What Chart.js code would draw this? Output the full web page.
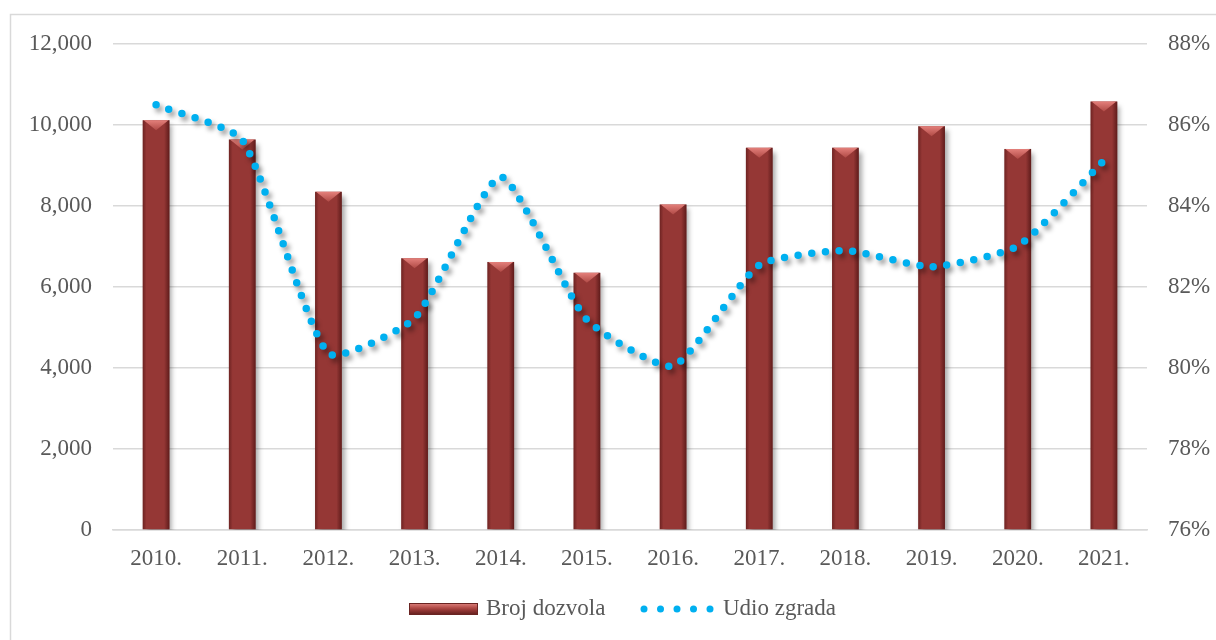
<!DOCTYPE html>
<html>
<head>
<meta charset="utf-8">
<style>
  html, body { margin: 0; padding: 0; background: #fff; }
  #wrap { position: relative; width: 1216px; height: 640px; }
</style>
<script src="https://cdn.jsdelivr.net/npm/chart.js"></script>
</head>
<body>
<div id="wrap"><canvas id="chart" width="1216" height="640"></canvas></div>
<script>
// Data
const years = ['2010.', '2011.', '2012.', '2013.', '2014.', '2015.', '2016.', '2017.', '2018.', '2019.', '2020.', '2021.'];
const brojDozvola = [10120, 9640, 8350, 6710, 6620, 6350, 8040, 9440, 9440, 9970, 9410, 10580];
const udioZgrada = [86.5, 85.63, 80.36, 81.23, 84.72, 81.19, 80.05, 82.54, 82.9, 82.5, 83.01, 85.12];
const legendLabels = ['Broj dozvola', 'Udio zgrada'];

const FONT = '"Liberation Serif", "Times New Roman", serif';
const TEXT = '#595959';
const GRID = '#d9d9d9';
const BAR = '#953735';
const LINE = '#00b0f0';

// bevel look on each bar: dark sides + light top wedge
function drawBevel(ctx, x, y, w, h) {
  ctx.save();
  const g = ctx.createLinearGradient(x, 0, x + w, 0);
  g.addColorStop(0, 'rgba(50,5,5,0.4)');
  g.addColorStop(0.14, 'rgba(50,5,5,0)');
  g.addColorStop(0.8, 'rgba(50,5,5,0)');
  g.addColorStop(1, 'rgba(50,5,5,0.55)');
  ctx.fillStyle = g;
  ctx.fillRect(x, y, w, h);
  const d = Math.min(10, h);
  const t = ctx.createLinearGradient(0, y, 0, y + d);
  t.addColorStop(0, '#e4807b');
  t.addColorStop(1, '#b04a46');
  ctx.fillStyle = t;
  ctx.beginPath();
  ctx.moveTo(x + 1, y);
  ctx.lineTo(x + w - 1, y);
  ctx.lineTo(x + w / 2, y + d);
  ctx.closePath();
  ctx.fill();
  ctx.restore();
}

const shadowAndBevel = {
  id: 'shadowAndBevel',
  beforeDatasetDraw(chart, args) {
    const ctx = chart.ctx;
    ctx.save();
    ctx.shadowColor = args.meta.type === 'bar' ? 'rgba(0,0,0,0.35)' : 'rgba(0,0,0,0.4)';
    ctx.shadowBlur = 5;
    ctx.shadowOffsetX = 3;
    ctx.shadowOffsetY = 4;
  },
  afterDatasetDraw(chart, args) {
    const ctx = chart.ctx;
    ctx.restore();
    if (args.meta.type !== 'bar') return;
    args.meta.data.forEach(b => drawBevel(ctx, b.x - b.width / 2, b.y, b.width, b.base - b.y));
  }
};

// border frame + bottom legend
const frameAndLegend = {
  id: 'frameAndLegend',
  afterDraw(chart) {
    const ctx = chart.ctx;
    ctx.save();
    ctx.strokeStyle = GRID;
    ctx.lineWidth = 1.5;
    ctx.strokeRect(10.5, 14.5, 1230, 660);

    const cy = 609;
    // bar swatch
    const sx = 409, sw = 69, sh = 12;
    const g = ctx.createLinearGradient(0, cy - sh / 2, 0, cy + sh / 2);
    g.addColorStop(0, '#e08480');
    g.addColorStop(0.4, '#b24c48');
    g.addColorStop(0.6, BAR);
    g.addColorStop(1, '#5e1d1b');
    ctx.fillStyle = g;
    ctx.fillRect(sx, cy - sh / 2, sw, sh);
    ctx.strokeStyle = '#6a2422';
    ctx.lineWidth = 1;
    ctx.strokeRect(sx + 0.5, cy - sh / 2 + 0.5, sw - 1, sh - 1);

    ctx.font = '23px ' + FONT;
    ctx.fillStyle = TEXT;
    ctx.textBaseline = 'middle';
    ctx.textAlign = 'left';
    ctx.fillText(legendLabels[0], 486, cy);

    // dotted line swatch
    ctx.fillStyle = LINE;
    for (let i = 0; i < 5; i++) {
      ctx.beginPath();
      ctx.arc(644 + i * 16.5, cy, 3.5, 0, Math.PI * 2);
      ctx.fill();
    }
    ctx.fillStyle = TEXT;
    ctx.fillText(legendLabels[1], 723, cy);
    ctx.restore();
  }
};

new Chart(document.getElementById('chart'), {
  data: {
    labels: years,
    datasets: [
      {
        type: 'line',
        label: legendLabels[1],
        data: udioZgrada,
        yAxisID: 'y1',
        order: 0,
        borderColor: LINE,
        borderWidth: 7.5,
        borderDash: [0, 13.7],
        borderCapStyle: 'round',
        tension: 0.18,
        pointRadius: 0,
        fill: false
      },
      {
        type: 'bar',
        label: legendLabels[0],
        data: brojDozvola,
        yAxisID: 'y',
        order: 1,
        backgroundColor: BAR,
        borderWidth: 0,
        categoryPercentage: 1,
        barPercentage: 0.31
      }
    ]
  },
  options: {
    responsive: false,
    animation: false,
    layout: { padding: { top: 44, bottom: 70, left: 0, right: 0 } },
    plugins: {
      legend: { display: false },
      tooltip: { enabled: false }
    },
    scales: {
      x: {
        afterFit(s) { s.height = 40; },
        grid: { display: false, drawTicks: false },
        border: { display: true, color: GRID, width: 1.5 },
        ticks: { color: TEXT, font: { family: FONT, size: 23 }, padding: 15, maxRotation: 0 }
      },
      y: {
        position: 'left',
        min: 0,
        max: 12000,
        afterFit(s) { s.width = 113; },
        grid: { color: GRID, lineWidth: 1.5, drawTicks: false },
        border: { display: false },
        ticks: {
          stepSize: 2000,
          color: TEXT,
          font: { family: FONT, size: 23 },
          padding: 21,
          callback: v => v.toLocaleString('en-US')
        }
      },
      y1: {
        position: 'right',
        min: 76,
        max: 88,
        afterFit(s) { s.width = 69; },
        grid: { drawOnChartArea: false, drawTicks: false },
        border: { display: false },
        ticks: {
          stepSize: 2,
          color: TEXT,
          font: { family: FONT, size: 23 },
          padding: 21,
          callback: v => v + '%'
        }
      }
    }
  },
  plugins: [shadowAndBevel, frameAndLegend]
});
</script>
</body>
</html>
